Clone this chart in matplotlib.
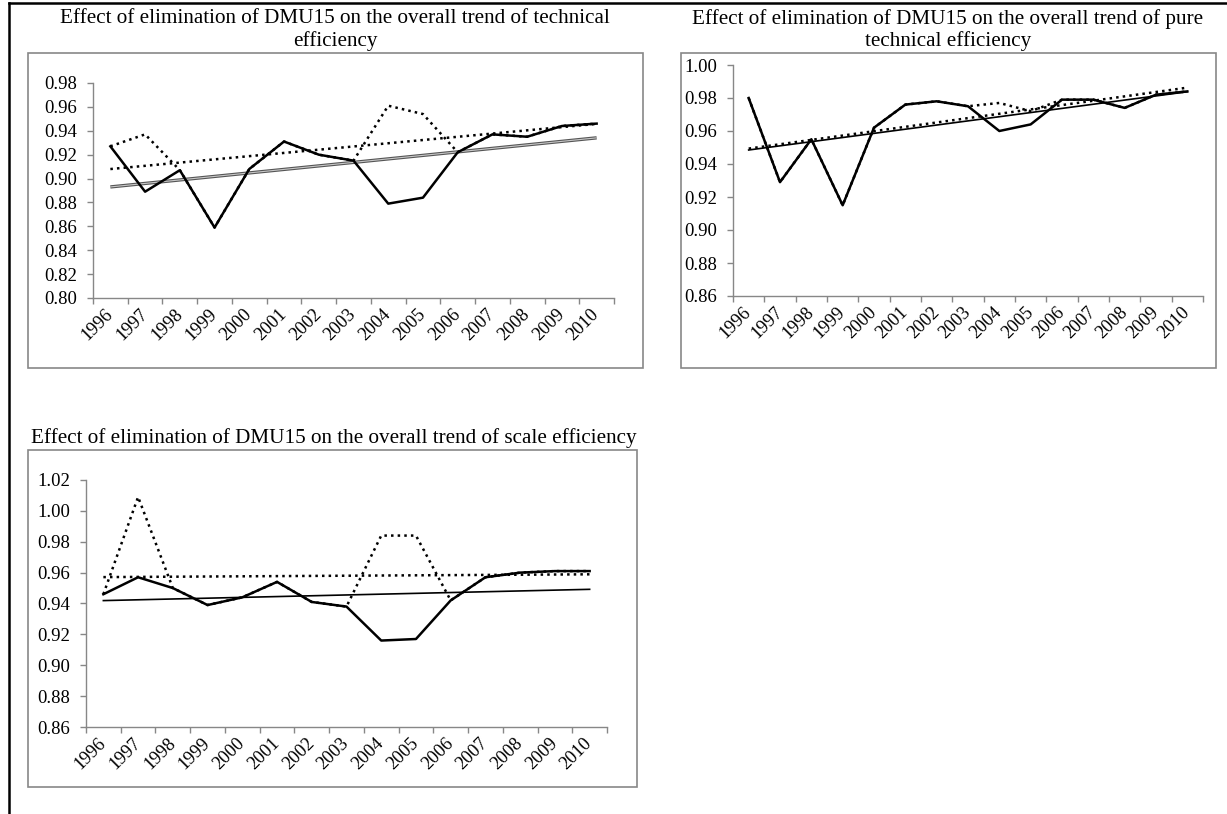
import numpy as np
import matplotlib
matplotlib.use('Agg')
import matplotlib.pyplot as plt
from matplotlib.patches import Rectangle
from matplotlib.lines import Line2D

plt.rcParams['font.family'] = ['Liberation Serif', 'DejaVu Serif']

# Data
years = ['1996', '1997', '1998', '1999', '2000', '2001', '2002', '2003',
         '2004', '2005', '2006', '2007', '2008', '2009', '2010']

te_without = [0.927, 0.889, 0.907, 0.859, 0.908, 0.931, 0.920, 0.915,
              0.879, 0.884, 0.922, 0.937, 0.935, 0.944, 0.946]
te_with = [0.927, 0.937, 0.907, 0.859, 0.908, 0.931, 0.920, 0.915,
           0.961, 0.954, 0.922, 0.937, 0.935, 0.944, 0.946]

pte_without = [0.980, 0.929, 0.955, 0.915, 0.962, 0.976, 0.978, 0.975,
               0.960, 0.964, 0.979, 0.979, 0.974, 0.982, 0.984]
pte_with = [0.980, 0.929, 0.955, 0.915, 0.962, 0.976, 0.978, 0.975,
            0.977, 0.972, 0.979, 0.979, 0.974, 0.982, 0.984]

se_without = [0.946, 0.957, 0.950, 0.939, 0.944, 0.954, 0.941, 0.938,
              0.916, 0.917, 0.942, 0.957, 0.960, 0.961, 0.961]
se_with = [0.946, 1.009, 0.950, 0.939, 0.944, 0.954, 0.941, 0.938,
           0.984, 0.984, 0.942, 0.957, 0.960, 0.961, 0.961]

titles = ['Effect of elimination of DMU15 on the overall trend of technical\nefficiency',
          'Effect of elimination of DMU15 on the overall trend of pure\ntechnical efficiency',
          'Effect of elimination of DMU15 on the overall trend of scale efficiency']

W, H = 1227, 814
GRAY = '#878787'


def rect(left, top, right, bottom):
    return [left / W, 1 - bottom / H, (right - left) / W, (bottom - top) / H]


fig = plt.figure(figsize=(W / 100, H / 100), dpi=100)

# outer frame (top and left only)
fig.add_artist(Line2D([9 / W, 1], [1 - 3 / H, 1 - 3 / H], color='black', lw=1.8,
                      transform=fig.transFigure))
fig.add_artist(Line2D([9 / W, 9 / W], [0, 1 - 3 / H], color='black', lw=1.8,
                      transform=fig.transFigure))


def panel(ax_px, box_px, title, title_xy, without, with_, ymin, ymax, double_trend):
    l, t, r, b = box_px
    fig.add_artist(Rectangle((l / W, 1 - b / H), (r - l) / W, (b - t) / H,
                             fill=False, edgecolor=GRAY, lw=1.2,
                             transform=fig.transFigure))
    fig.text(title_xy[0] / W, 1 - title_xy[1] / H, title, ha='center', va='center',
             fontsize=15.2, linespacing=1.2)

    ax = fig.add_axes(rect(*ax_px))
    x = np.arange(len(years))

    # linear trend lines
    p_with = np.polyfit(x, with_, 1)
    p_wo = np.polyfit(x, without, 1)
    ax.plot(x, np.polyval(p_with, x), color='black', lw=1.8, ls=':')
    if double_trend:
        ax.plot(x, np.polyval(p_wo, x), color='#555555', lw=2.4,
                solid_capstyle='butt')
        ax.plot(x, np.polyval(p_wo, x), color='#c8c8c8', lw=0.8,
                solid_capstyle='butt')
    else:
        ax.plot(x, np.polyval(p_wo, x), color='black', lw=1.2)

    ax.plot(x, with_, color='black', lw=1.8, ls=':')
    ax.plot(x, without, color='black', lw=1.8)

    ax.set_xlim(-0.5, len(years) - 0.5)
    ax.set_ylim(ymin, ymax)
    ax.set_yticks(np.arange(ymin, ymax + 0.001, 0.02))
    ax.yaxis.set_major_formatter(matplotlib.ticker.FormatStrFormatter('%.2f'))

    ax.set_xticks(np.arange(-0.5, len(years), 1.0))
    ax.set_xticklabels([])
    ax.set_xticks(x, minor=True)
    ax.set_xticklabels(years, minor=True, rotation=45, ha='right',
                       rotation_mode='anchor', va='center')
    ax.tick_params(axis='x', which='minor', length=0, pad=10, labelsize=13.2)
    ax.tick_params(axis='x', which='major', length=4.5, color=GRAY, width=1)
    ax.tick_params(axis='y', length=4.5, color=GRAY, width=1, pad=7, labelsize=13.5)

    for s in ['top', 'right']:
        ax.spines[s].set_visible(False)
    for s in ['left', 'bottom']:
        ax.spines[s].set_color(GRAY)
        ax.spines[s].set_linewidth(1)
    ax.patch.set_alpha(0)
    return ax


panel((93, 83, 614, 298), (28, 53, 643, 368), titles[0], (335, 30),
      te_without, te_with, 0.80, 0.98, True)
panel((733, 65, 1203, 296), (681, 53, 1216, 368), titles[1], (948, 30),
      pte_without, pte_with, 0.86, 1.00, False)
panel((86, 480, 607, 727), (28, 450, 637, 787), titles[2], (334, 438),
      se_without, se_with, 0.86, 1.02, False)

fig.savefig('out.png', dpi=100)
